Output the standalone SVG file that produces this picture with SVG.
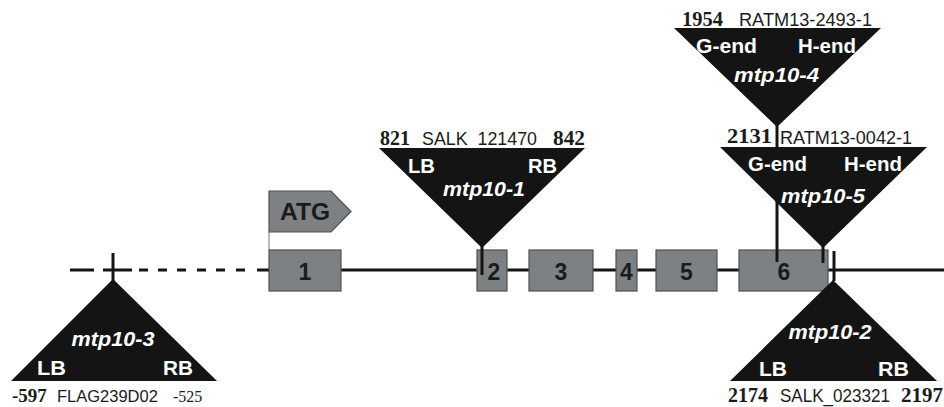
<svg xmlns="http://www.w3.org/2000/svg" width="944" height="407" viewBox="0 0 944 407">
<style>
.exon{fill:#7e8184;stroke:#4f5052;stroke-width:1.2}
.exl{font-family:"Liberation Sans",Arial,sans-serif;font-weight:bold;font-size:23px;fill:#1b1b1b;text-anchor:middle}
.tri{fill:#141414}
.w{font-family:"Liberation Sans",Arial,sans-serif;font-weight:bold;font-size:21px;fill:#ffffff}
.wi{font-family:"Liberation Sans",Arial,sans-serif;font-weight:bold;font-style:italic;font-size:21px;fill:#ffffff;text-anchor:middle}
.num{font-family:"Liberation Serif","Times New Roman",serif;font-weight:bold;font-size:21px;fill:#1b1b1b}
.sans{font-family:"Liberation Sans",Arial,sans-serif;font-size:18.5px;fill:#1b1b1b}
.ln{stroke:#141414;stroke-width:3;fill:none}
</style>
<rect width="944" height="407" fill="#ffffff"/>
<g id="connectors">
  <path class="ln" d="M268 270H944"/>
  <path class="ln" stroke-width="4" d="M70 270H94M103 270H132M139 270h9M158 270h9M177 270h9M197 270h9M216 270h9M236 270h9M257 270h12"/>
  <path d="M269 232V250" stroke="#8a8a8a" stroke-width="1.2"/>
</g>
<g id="exon1"><rect class="exon" x="269" y="250" width="72" height="41"/><text class="exl" x="305" y="280">1</text></g>
<g id="exon2"><rect class="exon" x="477" y="250" width="30" height="41"/><text class="exl" x="494" y="280">2</text></g>
<g id="exon3"><rect class="exon" x="529" y="250" width="64" height="41"/><text class="exl" x="561" y="280">3</text></g>
<g id="exon4"><rect class="exon" x="616" y="250" width="21" height="41"/><text class="exl" x="626.5" y="280">4</text></g>
<g id="exon5"><rect class="exon" x="656" y="250" width="61" height="41"/><text class="exl" x="686.5" y="280">5</text></g>
<g id="exon6"><rect class="exon" x="739" y="250" width="89" height="41"/><text class="exl" x="784" y="280">6</text></g>
<g id="atg"><polygon class="exon" points="269,191 331,191 351,211.5 331,232 269,232"/><text class="exl" x="305" y="220" textLength="50" lengthAdjust="spacingAndGlyphs">ATG</text></g>
<g id="mtp10-3">
  <path class="ln" d="M113 253V281"/>
  <polygon class="tri" points="113,279 11,381 217,381"/>
  <text class="wi" x="113" y="346" textLength="83" lengthAdjust="spacingAndGlyphs">mtp10-3</text>
  <text class="w" x="37" y="375" textLength="29" lengthAdjust="spacingAndGlyphs">LB</text>
  <text class="w" x="163" y="375" textLength="30" lengthAdjust="spacingAndGlyphs">RB</text>
  <text class="num" x="12" y="402" style="font-size:19px">-597</text>
  <text class="sans" x="57" y="402" style="font-size:16.5px">FLAG239D02</text>
  <text class="num" x="173" y="402" style="font-size:16px;font-weight:normal">-525</text>
</g>
<g id="mtp10-1">
  <path class="ln" d="M482 246V275"/>
  <polygon class="tri" points="379,148 585,148 482,248"/>
  <text class="wi" x="484" y="196" textLength="82" lengthAdjust="spacingAndGlyphs">mtp10-1</text>
  <text class="w" x="408" y="173" textLength="27" lengthAdjust="spacingAndGlyphs">LB</text>
  <text class="w" x="528" y="173" textLength="29" lengthAdjust="spacingAndGlyphs">RB</text>
  <text class="num" x="380" y="145" textLength="30" lengthAdjust="spacingAndGlyphs">821</text>
  <text class="sans" x="422" y="145" textLength="115" lengthAdjust="spacingAndGlyphs">SALK&#160; 121470</text>
  <text class="num" x="553" y="145" textLength="32" lengthAdjust="spacingAndGlyphs">842</text>
</g>
<g id="mtp10-4">
  <path class="ln" d="M777 125V262"/>
  <polygon class="tri" points="674,28 881,28 777,127"/>
  <text class="wi" x="776.5" y="82" textLength="85" lengthAdjust="spacingAndGlyphs">mtp10-4</text>
  <text class="w" x="696" y="53" textLength="61" lengthAdjust="spacingAndGlyphs">G-end</text>
  <text class="w" x="798" y="53" textLength="58" lengthAdjust="spacingAndGlyphs">H-end</text>
  <text class="num" x="682" y="26" textLength="41" lengthAdjust="spacingAndGlyphs">1954</text>
  <text class="sans" x="739" y="26" textLength="133" lengthAdjust="spacingAndGlyphs">RATM13-2493-1</text>
</g>
<g id="mtp10-5">
  <path class="ln" d="M823 246V263"/>
  <polygon class="tri" points="720,147 927,147 823,248"/>
  <text class="wi" x="823" y="203" textLength="84" lengthAdjust="spacingAndGlyphs">mtp10-5</text>
  <text class="w" x="748" y="171" textLength="59" lengthAdjust="spacingAndGlyphs">G-end</text>
  <text class="w" x="844" y="171" textLength="58" lengthAdjust="spacingAndGlyphs">H-end</text>
  <text class="num" x="727" y="143" style="font-size:22px" textLength="45" lengthAdjust="spacingAndGlyphs">2131</text>
  <text class="sans" x="780" y="144" textLength="132" lengthAdjust="spacingAndGlyphs">RATM13-0042-1</text>
</g>
<g id="mtp10-2">
  <path class="ln" d="M834 251V281"/>
  <polygon class="tri" points="833,280 730,381 937,381"/>
  <text class="wi" x="830" y="339" textLength="83" lengthAdjust="spacingAndGlyphs">mtp10-2</text>
  <text class="w" x="759" y="376" textLength="28" lengthAdjust="spacingAndGlyphs">LB</text>
  <text class="w" x="878" y="376" textLength="31" lengthAdjust="spacingAndGlyphs">RB</text>
  <text class="num" x="728" y="402" textLength="40" lengthAdjust="spacingAndGlyphs">2174</text>
  <text class="sans" x="780" y="402" textLength="110" lengthAdjust="spacingAndGlyphs">SALK_023321</text>
  <text class="num" x="901" y="402" textLength="42" lengthAdjust="spacingAndGlyphs">2197</text>
</g>
</svg>
